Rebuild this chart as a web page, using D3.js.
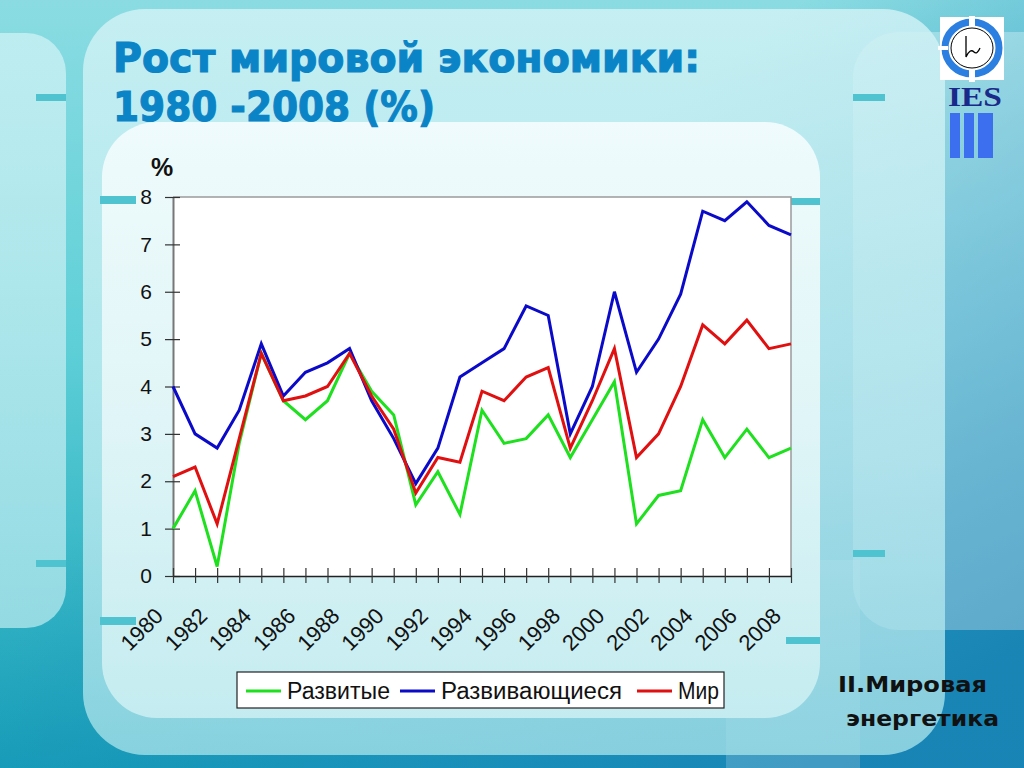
<!DOCTYPE html>
<html><head><meta charset="utf-8">
<script src="https://cdn.jsdelivr.net/npm/d3@7"></script>
<style>html,body{margin:0;padding:0;overflow:hidden;background:#5fcfd8}svg{display:block}</style>
</head><body><svg id="c" width="1024" height="768"></svg>
<script>
const years = [1980,1981,1982,1983,1984,1985,1986,1987,1988,1989,1990,1991,1992,1993,1994,1995,1996,1997,1998,1999,2000,2001,2002,2003,2004,2005,2006,2007,2008];
const developed  = [1.0,1.8,0.2,2.8,4.7,3.7,3.3,3.7,4.7,3.9,3.4,1.5,2.2,1.3,3.5,2.8,2.9,3.4,2.5,3.3,4.1,1.1,1.7,1.8,3.3,2.5,3.1,2.5,2.7];
const developing = [4.0,3.0,2.7,3.5,4.9,3.8,4.3,4.5,4.8,3.7,2.9,1.95,2.7,4.2,4.5,4.8,5.7,5.5,3.0,4.0,6.0,4.3,5.0,5.95,7.7,7.5,7.9,7.4,7.2];
const world      = [2.1,2.3,1.1,2.9,4.7,3.7,3.8,4.0,4.7,3.8,3.1,1.75,2.5,2.4,3.9,3.7,4.2,4.4,2.7,3.7,4.8,2.5,3.0,4.0,5.3,4.9,5.4,4.8,4.9];
const seriesNames = ["Развитые","Развивающиеся","Мир"];
const seriesColors = ["#1ee01e","#0a0ac8","#e01010"];
const yTicks = [0,1,2,3,4,5,6,7,8];
const xLabelYears = [1980,1982,1984,1986,1988,1990,1992,1994,1996,1998,2000,2002,2004,2006,2008];
const titleLines = ["Рост мировой экономики:","1980 -2008 (%)"];
const footerLines = ["II.Мировая","энергетика"];

const svg = d3.select("#c");
const font = "'Liberation Sans', Arial, sans-serif";
const wide = "'DejaVu Sans', Verdana, sans-serif";
const defs = svg.append("defs");
function lg(id, stops, x1, y1, x2, y2, user){
  const g = defs.append("linearGradient").attr("id",id).attr("x1",x1).attr("y1",y1).attr("x2",x2).attr("y2",y2);
  if(user) g.attr("gradientUnits","userSpaceOnUse");
  stops.forEach(s=>g.append("stop").attr("offset",s[0]).attr("stop-color",s[1]).attr("stop-opacity",s[2]===undefined?1:s[2]));
}
lg("bg",[[0,"#8adce2"],[0.45,"#5ecfd7"],[1,"#16a1b7"]],0,0,0,1);
lg("bgR",[[0,"#1c86bb",0],[0.55,"#1c86bb",0.55],[1,"#1883b5",0.95]],640,120,1024,640,true);
lg("panel",[[0,"#d4f3f6"],[0.6,"#c0ecf1"],[1,"#a2e0e8"]],0,0,0,1);
lg("inner",[[0,"#effbfc"],[0.5,"#e0f5f7"],[1,"#c4ecf0"]],0,0,0,1);
lg("pillarL",[[0,"#c8f0f3"],[1,"#a6e2e8"]],0,0,0,1);

// background
svg.append("rect").attr("width",1024).attr("height",768).attr("fill","url(#bg)");
svg.append("rect").attr("width",1024).attr("height",768).attr("fill","url(#bgR)");
svg.append("rect").attr("x",726).attr("y",560).attr("width",134).attr("height",208).attr("fill","#ffffff").attr("opacity",0.18);
// pillars
svg.append("rect").attr("x",-40).attr("y",33).attr("width",106).attr("height",595).attr("rx",40).attr("fill","url(#pillarL)").attr("opacity",0.85);
svg.append("rect").attr("x",853).attr("y",32).attr("width",230).attr("height",598).attr("rx",46).attr("fill","#ffffff").attr("opacity",0.3);
// big panel
svg.append("rect").attr("x",83).attr("y",9).attr("width",862).attr("height",746).attr("rx",62).attr("fill","url(#panel)").attr("opacity",0.8);
// inner chart panel
svg.append("rect").attr("x",102).attr("y",122).attr("width",718).attr("height",596).attr("rx",55).attr("fill","url(#inner)");
// tabs
const tabs=[[36,94,30,7],[36,560,30,7],[853,94,32,7],[853,550,32,7],[100,196,36,8],[100,617,36,8],[786,198,34,7],[786,637,34,7]];
svg.selectAll("rect.tab").data(tabs).join("rect").attr("class","tab")
  .attr("x",d=>d[0]).attr("y",d=>d[1]).attr("width",d=>d[2]).attr("height",d=>d[3]).attr("fill","#4fc3cf");

// title
const titleW=[587,322];
svg.append("g").selectAll("text").data(titleLines).join("text")
  .attr("x",113).attr("y",(d,i)=>72+i*49)
  .attr("font-family",wide).attr("font-weight","bold").attr("font-size",41)
  .attr("textLength",(d,i)=>titleW[i]).attr("lengthAdjust","spacingAndGlyphs")
  .attr("fill","#0a84c6").attr("stroke","#0a84c6").attr("stroke-width",1.2).text(d=>d);

// footer
const footW=[149,153];
svg.append("g").selectAll("text").data(footerLines).join("text")
  .attr("x",(d,i)=>i===0?838:846).attr("y",(d,i)=>692+i*34)
  .attr("font-family",wide).attr("font-weight","bold").attr("font-size",22)
  .attr("textLength",(d,i)=>footW[i]).attr("lengthAdjust","spacingAndGlyphs")
  .attr("fill","#111").text(d=>d);

// logo
const logo = svg.append("g");
logo.append("rect").attr("x",940).attr("y",17).attr("width",64).attr("height",63).attr("fill","#fff");
logo.append("ellipse").attr("cx",972).attr("cy",48).attr("rx",27).attr("ry",26).attr("fill","none").attr("stroke","#2a7fe0").attr("stroke-width",7);
logo.append("rect").attr("x",969).attr("y",16).attr("width",6).attr("height",66).attr("fill","#fff");
logo.append("rect").attr("x",938).attr("y",46).attr("width",10).attr("height",4).attr("fill","#fff");
logo.append("ellipse").attr("cx",972).attr("cy",48).attr("rx",21).attr("ry",20).attr("fill","none").attr("stroke","#000").attr("stroke-width",1);
logo.append("path").attr("d","M966,36 L966,57 Q970,48 974,52 Q977,55 980,48").attr("fill","none").attr("stroke","#000").attr("stroke-width",1.3);
logo.append("text").attr("x",948).attr("y",106).attr("textLength",54).attr("lengthAdjust","spacingAndGlyphs")
  .attr("font-family","'Liberation Serif', serif").attr("font-weight","bold").attr("font-size",28).attr("fill","#1a2a8a").text("IES");
logo.selectAll("rect.bar").data([950,964,978]).join("rect").attr("class","bar")
  .attr("x",d=>d).attr("y",113).attr("width",d=>d===978?15:10).attr("height",45).attr("fill","#3b6ff0");

// chart
const pLeft=173,pRight=791,pTop=197,pBottom=576;
const x = d3.scaleLinear().domain([years[0],years[years.length-1]]).range([pLeft,pRight]);
const y = d3.scaleLinear().domain([0,8]).range([pBottom,pTop]);
svg.append("rect").attr("x",pLeft).attr("y",pTop).attr("width",pRight-pLeft).attr("height",pBottom-pTop).attr("fill","#fff");
svg.append("path").attr("d",`M${pLeft},${pTop}H${pRight}V${pBottom}`).attr("fill","none").attr("stroke","#9a9a9a").attr("stroke-width",1.5);

const yAxis = svg.append("g").attr("transform",`translate(${pLeft},0)`)
  .call(d3.axisLeft(y).tickValues(yTicks).tickSize(0).tickPadding(21));
yAxis.select(".domain").attr("stroke","#777").attr("stroke-width",2);
yAxis.selectAll("text").attr("font-family",font).attr("font-size",21).attr("fill","#111");
yAxis.selectAll(".tick").append("line").attr("x1",-8).attr("x2",7).attr("stroke","#333").attr("stroke-width",1.2);

const xAxis = svg.append("g").attr("transform",`translate(0,${pBottom})`)
  .call(d3.axisBottom(x).tickValues(years).tickSize(0).tickFormat(""));
xAxis.select(".domain").attr("stroke","#222").attr("stroke-width",1.5);
xAxis.selectAll(".tick").append("line").attr("y1",-8).attr("y2",7).attr("stroke","#333").attr("stroke-width",1.2);
svg.append("g").selectAll("text").data(xLabelYears).join("text")
  .attr("transform",d=>`translate(${x(d)-14},${pBottom+36}) rotate(-45)`)
  .attr("text-anchor","end").attr("dy","0.35em")
  .attr("font-family",font).attr("font-size",22).attr("fill","#111").text(d=>d);

svg.append("text").attr("x",151).attr("y",176).attr("font-family",font).attr("font-weight","bold").attr("font-size",25).attr("fill","#111").text("%");

const data=[developed,developing,world];
const line = d3.line().x((d,i)=>x(years[i])).y(d=>y(d));
svg.append("g").selectAll("path").data(data).join("path")
  .attr("d",line).attr("fill","none").attr("stroke",(d,i)=>seriesColors[i]).attr("stroke-width",3).attr("stroke-linejoin","miter");

// legend
const lgG = svg.append("g");
lgG.append("rect").attr("x",237).attr("y",672).attr("width",487).attr("height",36).attr("fill","#fff").attr("stroke","#222").attr("stroke-width",1.2);
const lx=[246,400,637];
const lw=[103,181,41];
const items = lgG.selectAll("g").data(seriesNames).join("g").attr("transform",(d,i)=>`translate(${lx[i]},691)`);
items.append("line").attr("x1",0).attr("x2",35).attr("stroke",(d,i)=>seriesColors[i]).attr("stroke-width",3);
items.append("text").attr("x",41).attr("dy","0.36em").attr("font-family",font).attr("font-size",23)
  .attr("textLength",(d,i)=>lw[i]).attr("lengthAdjust","spacingAndGlyphs").attr("fill","#111").text(d=>d);
</script></body></html>
